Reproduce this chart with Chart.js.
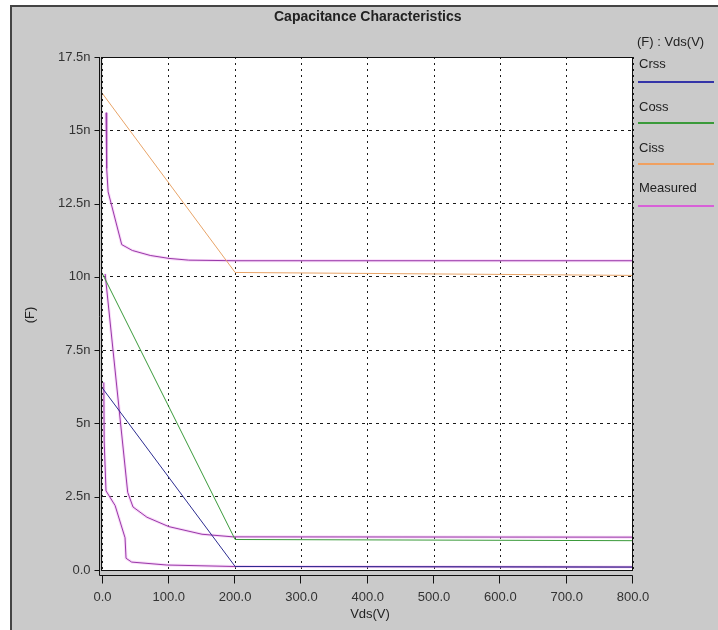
<!DOCTYPE html>
<html>
<head>
<meta charset="utf-8">
<title>Capacitance Characteristics</title>
<script src="https://cdn.jsdelivr.net/npm/chart.js@4.4.1/dist/chart.umd.min.js"></script>
<style>
    html, body { margin: 0; padding: 0; background: #fff; }
    canvas { display: block; }
</style>
</head>
<body>
<canvas id="cap-chart" width="718" height="630"></canvas>
<script>
// Vds in volts, capacitance in nF
var crssVds = [0, 200, 800];
var crssCap = [6.2, 0.12, 0.1];

var cossVds = [0, 200, 800];
var cossCap = [10.1, 1.04, 1.0];

var cissVds = [0, 200, 800];
var cissCap = [16.25, 10.15, 10.05];

// measured curves (three sweeps, one legend entry)
var measUpperVds = [5.3, 6.3, 8.5, 29, 45, 72, 100, 130, 200, 800];
var measUpperCap = [15.6, 13.7, 12.9, 11.1, 10.9, 10.73, 10.63, 10.57, 10.55, 10.55];

var measMidVds = [4, 38, 46, 67, 100, 150, 197, 800];
var measMidCap = [10.1, 2.65, 2.15, 1.8, 1.48, 1.22, 1.13, 1.12];

var measLowVds = [2, 2.5, 5.3, 19, 34, 35.5, 44, 97, 197, 800];
var measLowCap = [6.4, 4.4, 2.7, 2.2, 1.1, 0.4, 0.27, 0.17, 0.12, 0.1];

var xTickLabels = ["0.0", "100.0", "200.0", "300.0", "400.0", "500.0", "600.0", "700.0", "800.0"];
var yTickLabels = ["0.0", "2.5n", "5n", "7.5n", "10n", "12.5n", "15n", "17.5n"];

var legendNames = ["Crss", "Coss", "Ciss", "Measured"];
var legendColors = ["#3434a8", "#3a9a3a", "#f0a060", "#d860d8"];

var FONT = "'Liberation Sans', Arial, sans-serif";

function toPoints(xs, ys) {
    return xs.map(function (x, i) { return {x: x, y: ys[i]}; });
}

function curve(xs, ys, color) {
    return {data: toPoints(xs, ys), borderColor: color, borderWidth: 1, pointRadius: 0, tension: 0, fill: false};
}

// soft pink fringe seen round the measured traces
function halo(xs, ys) {
    return {data: toPoints(xs, ys), borderColor: "rgba(240,165,240,0.4)", borderWidth: 3, pointRadius: 0, tension: 0, fill: false, order: 5};
}

var measColor = "#9838a8";

// background, borders, axis marks, titles and legend
var framePlugin = {
    id: "frame",
    beforeDraw: function (chart) {
        var ctx = chart.ctx, a = chart.chartArea;
        ctx.save();
        ctx.fillStyle = "#fff";
        ctx.fillRect(0, 0, chart.width, chart.height);
        ctx.fillStyle = "#cacaca";
        ctx.fillRect(10, 5, chart.width - 10, chart.height - 5);
        ctx.fillStyle = "#444";
        ctx.fillRect(10, 5, 2, chart.height - 5);
        ctx.fillRect(10, 5, chart.width - 10, 2);
        ctx.fillStyle = "#fff";
        ctx.fillRect(a.left, a.top, a.right - a.left, a.bottom - a.top);
        ctx.restore();
    },
    afterDraw: function (chart) {
        var ctx = chart.ctx, a = chart.chartArea;
        var xs = chart.scales.x, ys = chart.scales.y;
        ctx.save();
        ctx.strokeStyle = "#111";
        ctx.lineWidth = 1;

        // plot border
        ctx.strokeRect(Math.round(a.left) - 1.5, Math.round(a.top) + 0.5, Math.round(a.right) - Math.round(a.left) + 1, Math.round(a.bottom) - Math.round(a.top));

        // y axis line and ticks, x axis line and ticks
        var axL = Math.round(a.left) - 3.5;
        var axB = Math.round(a.bottom) + 5.5;
        ctx.beginPath();
        ctx.moveTo(axL, a.top);
        ctx.lineTo(axL, axB);
        ctx.lineTo(Math.round(a.right) - 0.5, axB);
        ys.ticks.forEach(function (t) {
            var y = Math.round(ys.getPixelForValue(t.value)) + 0.5;
            ctx.moveTo(axL - 5, y);
            ctx.lineTo(axL, y);
        });
        xs.ticks.forEach(function (t) {
            var x = Math.round(xs.getPixelForValue(t.value)) - 0.5;
            ctx.moveTo(x, axB);
            ctx.lineTo(x, axB + 8);
        });
        ctx.stroke();

        // titles
        ctx.fillStyle = "#222";
        ctx.textAlign = "center";
        ctx.textBaseline = "middle";
        ctx.font = "bold 14px " + FONT;
        ctx.fillText("Capacitance Characteristics", (a.left + a.right) / 2, 17);
        ctx.font = "13px " + FONT;
        ctx.fillText("Vds(V)", 370, 614);
        ctx.save();
        ctx.translate(30, 315);
        ctx.rotate(-Math.PI / 2);
        ctx.fillText("(F)", 0, 0);
        ctx.restore();

        // legend: name above a coloured line
        ctx.textAlign = "left";
        ctx.fillText("(F) : Vds(V)", 637, 42);
        var textY = [64.5, 107, 148, 188.5];
        var lineY = [82, 123, 164, 206];
        legendNames.forEach(function (name, i) {
            ctx.fillStyle = "#222";
            ctx.fillText(name, 639, textY[i]);
            ctx.fillStyle = legendColors[i];
            ctx.fillRect(638, lineY[i] - 1, 76, 2);
        });
        ctx.restore();
    }
};

var ctx = document.getElementById("cap-chart").getContext("2d");
var capChart = new Chart(ctx, {
    type: "line",
    data: {
        datasets: [
            curve(crssVds, crssCap, "#2c2c90"),
            curve(cossVds, cossCap, "#3a9a3a"),
            curve(cissVds, cissCap, "#e8a468"),
            curve(measUpperVds, measUpperCap, measColor),
            curve(measMidVds, measMidCap, measColor),
            curve(measLowVds, measLowCap, measColor),
            halo(measUpperVds, measUpperCap),
            halo(measMidVds, measMidCap),
            halo(measLowVds, measLowCap)
        ]
    },
    options: {
        responsive: false,
        animation: false,
        layout: {padding: {left: 0, right: 85, top: 57, bottom: 0}},
        plugins: {
            legend: {display: false},
            title: {display: false},
            tooltip: {enabled: false}
        },
        scales: {
            x: {
                type: "linear",
                min: 0,
                max: 800,
                afterFit: function (s) { s.height = 60; },
                ticks: {
                    stepSize: 100,
                    autoSkip: false,
                    maxRotation: 0,
                    padding: 20,
                    color: "#333",
                    font: {family: FONT, size: 13},
                    callback: function (v, i) { return xTickLabels[i]; }
                },
                grid: {color: "#1a1a1a", lineWidth: 1, drawTicks: false},
                border: {display: false, dash: [2, 4]}
            },
            y: {
                type: "linear",
                min: 0,
                max: 17.5,
                afterFit: function (s) { s.width = 102.5; },
                ticks: {
                    stepSize: 2.5,
                    autoSkip: false,
                    padding: 12,
                    color: "#333",
                    font: {family: FONT, size: 13},
                    callback: function (v, i) { return yTickLabels[i]; }
                },
                grid: {color: "#1a1a1a", lineWidth: 1, drawTicks: false},
                border: {display: false, dash: [3, 4]}
            }
        }
    },
    plugins: [framePlugin]
});
</script>
</body>
</html>
